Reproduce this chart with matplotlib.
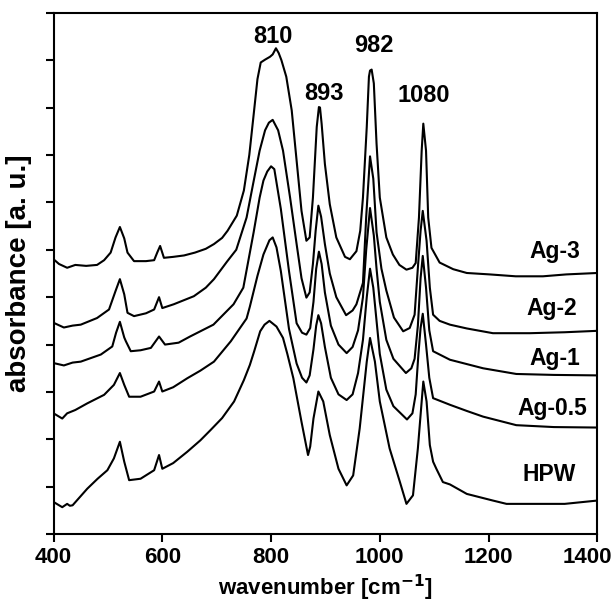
import numpy as np
import matplotlib
matplotlib.use("Agg")
import matplotlib.pyplot as plt
import matplotlib.transforms as mtransforms

plt.rcParams['font.family'] = ['Liberation Sans', 'DejaVu Sans']
plt.rcParams['font.weight'] = 'bold'
plt.rcParams['mathtext.default'] = 'bf'

# Spectra (wavenumber in cm-1, absorbance in a.u.)
wn_ag3 = [400, 410, 425, 440, 460, 480, 493, 505, 514, 522, 530, 536, 548, 570, 585, 591, 596, 603,
          620, 640, 660, 680, 695, 710, 720, 737, 750, 760, 768, 775, 781, 789, 798, 803, 809, 814,
          819, 828, 838, 847, 856, 865, 871, 877, 884, 888, 890, 893, 899, 908, 920, 936, 945, 957, 964,
          969, 976, 980, 982, 985, 989, 994, 1000, 1012, 1024, 1036, 1049, 1060, 1066, 1072, 1077, 1080,
          1085, 1089, 1095, 1110, 1135, 1160, 1202, 1250, 1300, 1343, 1400]
ab_ag3 = [5.80, 5.70, 5.62, 5.68, 5.66, 5.68, 5.78, 5.94, 6.26, 6.48, 6.24, 5.94, 5.76, 5.76, 5.78, 5.95, 6.08, 5.83,
          5.85, 5.88, 5.94, 6.02, 6.12, 6.25, 6.40, 6.72, 7.25, 8.00, 8.85, 9.60, 9.95, 10.01, 10.07, 10.12, 10.25, 10.15,
          10.00, 9.65, 8.94, 7.88, 6.82, 6.19, 6.26, 7.10, 8.59, 9.01, 9.00, 8.66, 7.81, 6.96, 6.26, 5.85, 5.80, 5.97, 6.40,
          7.10, 8.59, 9.65, 9.78, 9.80, 9.51, 8.24, 7.10, 6.26, 5.90, 5.68, 5.58, 5.62, 5.72, 6.68, 8.09, 8.66,
          8.09, 6.68, 6.04, 5.73, 5.59, 5.51, 5.48, 5.44, 5.44, 5.48, 5.51]

wn_ag2 = [400, 419, 435, 450, 480, 502, 514, 522, 530, 536, 548, 570, 585, 594, 600, 621, 658, 680,
          695, 719, 736, 755, 767, 779, 789, 796, 803, 813, 822, 835, 847, 856, 865, 871, 877, 882,
          887, 892, 899, 908, 920, 938, 950, 957, 969, 975, 982, 988, 994, 1003, 1012, 1026, 1043,
          1055, 1064, 1070, 1075, 1079, 1086, 1092, 1098, 1110, 1129, 1160, 1208, 1276, 1340, 1400]
ab_ag2 = [4.46, 4.36, 4.40, 4.42, 4.56, 4.74, 5.13, 5.38, 5.06, 4.67, 4.60, 4.66, 4.74, 5.00, 4.77, 4.85, 5.02, 5.20,
          5.38, 5.75, 6.00, 6.68, 7.39, 8.09, 8.52, 8.68, 8.74, 8.52, 8.09, 7.10, 6.12, 5.40, 4.99, 5.10, 5.70, 6.40,
          6.93, 6.70, 6.12, 5.50, 5.00, 4.62, 4.72, 4.85, 5.30, 6.70, 7.97, 7.50, 6.37, 5.60, 5.14, 4.57, 4.28,
          4.35, 4.63, 5.62, 6.40, 6.82, 6.19, 5.20, 4.63, 4.50, 4.42, 4.34, 4.24, 4.24, 4.26, 4.29]

wn_ag1 = [400, 419, 435, 450, 487, 508, 515, 522, 530, 533, 542, 560, 579, 594, 605, 630, 651, 694,
          731, 749, 768, 779, 786, 793, 800, 806, 818, 833, 847, 857, 865, 872, 878, 883, 888, 893,
          899, 910, 924, 939, 950, 960, 969, 975, 982, 989, 994, 1000, 1012, 1025, 1048, 1058, 1064,
          1070, 1075, 1079, 1085, 1091, 1098, 1129, 1190, 1251, 1320, 1400]
ab_ag1 = [3.61, 3.56, 3.62, 3.64, 3.79, 3.96, 4.25, 4.48, 4.15, 4.07, 3.86, 3.88, 3.93, 4.17, 4.00, 4.04, 4.17, 4.42,
          4.85, 5.20, 6.37, 7.10, 7.46, 7.65, 7.76, 7.70, 6.86, 5.55, 4.45, 4.25, 4.21, 4.35, 4.90, 5.60, 5.96, 5.70,
          5.10, 4.40, 4.00, 3.82, 3.95, 4.30, 5.00, 6.00, 6.88, 6.30, 5.60, 4.90, 4.10, 3.70, 3.40, 3.50, 3.70,
          4.40, 5.40, 5.87, 5.20, 4.30, 3.86, 3.68, 3.50, 3.38, 3.36, 3.35]

wn_ag05 = [400, 416, 425, 440, 462, 493, 511, 522, 530, 539, 560, 585, 594, 600, 620, 646, 670, 695,
           726, 755, 761, 775, 786, 797, 803, 810, 818, 833, 847, 857, 865, 871, 878, 883, 887, 892,
           899, 910, 924, 939, 950, 960, 969, 976, 982, 988, 994, 1000, 1012, 1025, 1050, 1060, 1066,
           1071, 1075, 1079, 1085, 1091, 1098, 1129, 1160, 1190, 1251, 1320, 1400]
ab_ag05 = [2.55, 2.44, 2.55, 2.62, 2.76, 2.94, 3.15, 3.40, 3.15, 2.90, 2.90, 3.01, 3.22, 3.01, 3.10, 3.29, 3.45, 3.64,
           4.07, 4.55, 4.80, 5.45, 5.90, 6.20, 6.26, 6.05, 5.55, 4.33, 3.60, 3.30, 3.20, 3.35, 3.90, 4.40, 4.62, 4.45,
           3.95, 3.30, 2.95, 2.83, 2.95, 3.40, 4.10, 5.00, 5.60, 5.20, 4.50, 3.80, 3.05, 2.70, 2.42, 2.55, 2.95,
           3.80, 4.35, 4.65, 4.00, 3.30, 2.87, 2.73, 2.60, 2.48, 2.30, 2.26, 2.25]

wn_hpw = [400, 416, 425, 430, 435, 462, 481, 499, 511, 522, 530, 539, 560, 585, 594, 600, 620, 646,
          670, 689, 710, 732, 750, 761, 769, 780, 788, 797, 810, 822, 830, 841, 856, 868, 872, 878,
          887, 896, 908, 924, 939, 951, 963, 976, 982, 991, 1000, 1018, 1037, 1049, 1061, 1070, 1077,
          1080, 1086, 1092, 1098, 1104, 1116, 1129, 1160, 1208, 1233, 1313, 1340, 1400]
ab_hpw = [0.68, 0.57, 0.64, 0.60, 0.61, 0.96, 1.17, 1.35, 1.60, 1.95, 1.53, 1.14, 1.17, 1.35, 1.67, 1.38, 1.50, 1.74,
          1.98, 2.20, 2.45, 2.80, 3.25, 3.57, 3.86, 4.28, 4.42, 4.50, 4.38, 4.14, 3.80, 3.29, 2.37, 1.67, 1.85, 2.44,
          3.01, 2.80, 2.09, 1.38, 1.03, 1.24, 2.23, 3.64, 4.14, 3.64, 2.80, 1.81, 1.10, 0.64, 0.82, 1.81, 2.80,
          3.22, 2.80, 1.88, 1.53, 1.38, 1.10, 1.05, 0.85, 0.71, 0.64, 0.64, 0.64, 0.71]

series = [(wn_ag3, ab_ag3), (wn_ag2, ab_ag2), (wn_ag1, ab_ag1), (wn_ag05, ab_ag05), (wn_hpw, ab_hpw)]
names = ["Ag-3", "Ag-2", "Ag-1", "Ag-0.5", "HPW"]
name_pos = [(1322, 5.96), (1317, 4.77), (1322, 3.70), (1318, 2.65), (1312, 1.26)]

peaks = ["810", "893", "982", "1080"]
peak_pos = [(804, 10.49), (897, 9.29), (989, 10.30), (1081, 9.26)]

fig = plt.figure(figsize=(6.12, 6.05), dpi=100)
ax = fig.add_axes([0.0875, 0.117, 0.8885, 0.862])

for (x, y) in series:
    ax.plot(x, y, color='black', lw=1.5)

for name, (x, y) in zip(names, name_pos):
    ax.text(x, y, name, ha='center', va='center', fontsize=16.5, fontweight='bold')
for p, (x, y) in zip(peaks, peak_pos):
    ax.text(x, y, p, ha='center', va='center', fontsize=17, fontweight='bold')

ax.set_xlim(400, 1400)
ax.set_ylim(0, 11)
ax.set_xticks(np.arange(400, 1401, 200))
ax.set_yticks(np.arange(0, 12, 1))
ax.set_yticklabels([])
ax.tick_params(axis='both', direction='out', length=6, width=1.5, labelsize=16)
for lab in ax.get_xticklabels():
    lab.set_fontweight('bold')
# keep the last label inside the figure edge
last = ax.get_xticklabels()[-1]
last.set_transform(last.get_transform() + mtransforms.ScaledTranslation(-10 / 100, 0, fig.dpi_scale_trans))
for s in ax.spines.values():
    s.set_linewidth(1.5)

ax.set_xlabel("wavenumber [cm$^{-1}$]", fontsize=16, fontweight='bold', labelpad=3)
ax.set_ylabel("absorbance [a. u.]", fontsize=20, fontweight='bold', labelpad=6)

fig.savefig("out.png", dpi=100)
